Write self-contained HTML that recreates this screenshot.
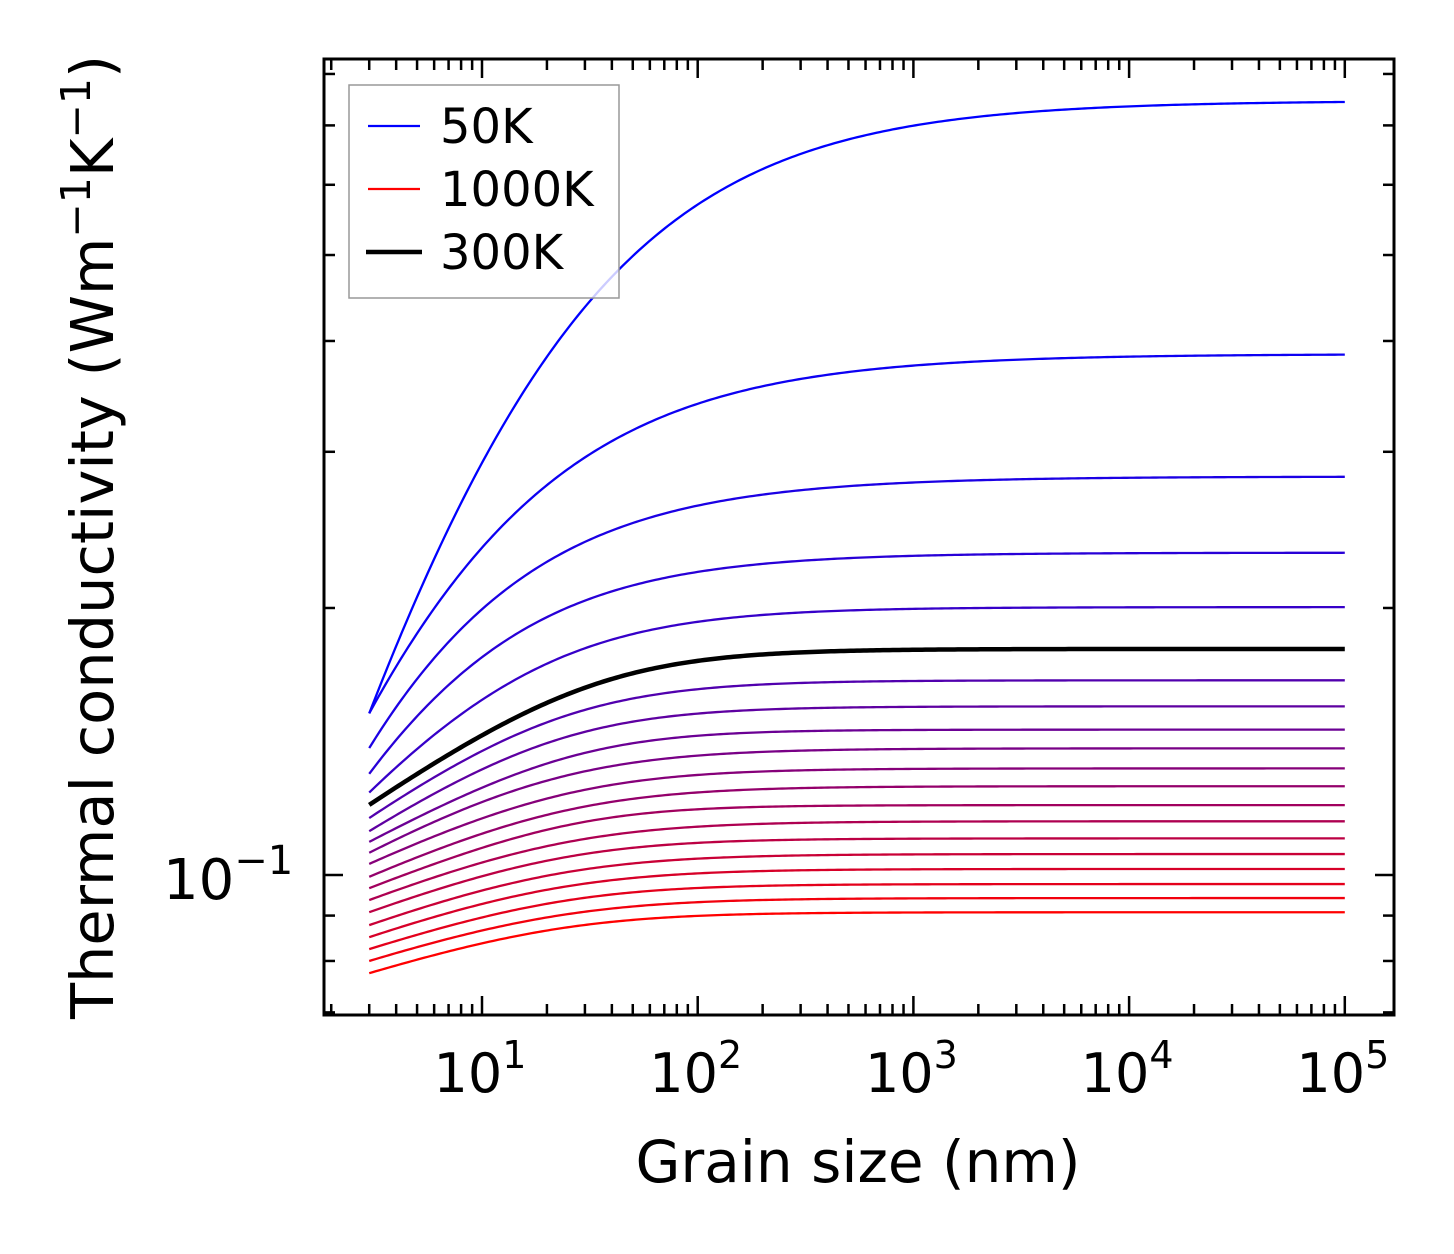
<!DOCTYPE html>
<html><head><meta charset="utf-8"><style>
html,body{margin:0;padding:0;background:#fff;}
svg{display:block;font-family:"DejaVu Sans","Liberation Sans",sans-serif;}
</style></head><body>
<svg id="chart" width="1454" height="1254" viewBox="0 0 1454 1254" xmlns="http://www.w3.org/2000/svg">
<rect width="1454" height="1254" fill="#fff"/>
<g id="series"></g>
<g id="axes"></g>
<g>
<rect x="349" y="85" width="270" height="213" fill="#fff" fill-opacity="0.8" stroke="#999" stroke-width="1.5"/>
<line x1="368" y1="126" x2="420" y2="126" stroke="#0000ff" stroke-width="2.2"/>
<text x="440" y="143" font-size="48">50K</text>
<line x1="368" y1="189" x2="420" y2="189" stroke="#ff0000" stroke-width="2.2"/>
<text x="440" y="206" font-size="48">1000K</text>
<line x1="366" y1="252" x2="422" y2="252" stroke="#000" stroke-width="4.5"/>
<text x="440" y="269" font-size="48">300K</text>
</g>
<text x="858" y="1182" font-size="58" text-anchor="middle">Grain size (nm)</text>
<text transform="translate(113,537) rotate(-90)" font-size="59" text-anchor="middle">Thermal conductivity (Wm<tspan dy="-23" font-size="41">−1</tspan><tspan dy="23">K</tspan><tspan dy="-23" font-size="41">−1</tspan><tspan dy="23">)</tspan></text>
</svg>
<script>
const grainSizes = [3, 5, 10, 20, 50, 100, 300, 1000, 10000, 100000];
const temperatures = [50,100,150,200,250,300,350,400,450,500,550,600,650,700,750,800,850,900,950,1000];
const k50 = [0.152,0.206,0.296,0.378,0.497,0.569,0.653,0.706,0.738,0.742];
const k100 = [0.152,0.189,0.232,0.276,0.316,0.340,0.363,0.380,0.384,0.385];
const k150 = [0.139,0.167,0.198,0.226,0.250,0.261,0.272,0.277,0.280,0.281];
const k200 = [0.130,0.151,0.177,0.194,0.212,0.220,0.226,0.229,0.230,0.231];
const k250 = [0.124,0.138,0.156,0.176,0.187,0.192,0.196,0.199,0.200,0.201];
const k300 = [0.120,0.130,0.143,0.157,0.169,0.174,0.178,0.179,0.1798,0.180];
const k350 = [0.116,0.125,0.138,0.149,0.158,0.162,0.164,0.165,0.1658,0.166];
const k400 = [0.112,0.121,0.131,0.141,0.149,0.152,0.154,0.1545,0.1549,0.155];
const k450 = [0.109,0.116,0.125,0.134,0.141,0.143,0.145,0.1455,0.1459,0.146];
const k500 = [0.106,0.112,0.121,0.128,0.134,0.136,0.138,0.1385,0.1389,0.139];
const k550 = [0.103,0.108,0.116,0.122,0.128,0.129,0.131,0.1315,0.1319,0.132];
const k600 = [0.0995,0.105,0.111,0.117,0.122,0.124,0.125,0.1255,0.1259,0.126];
const k650 = [0.0967,0.101,0.107,0.113,0.117,0.118,0.1195,0.1198,0.1199,0.120];
const k700 = [0.0937,0.098,0.103,0.108,0.112,0.113,0.1145,0.1148,0.1149,0.115];
const k750 = [0.0908,0.0947,0.0996,0.104,0.107,0.109,0.1095,0.1098,0.1099,0.110];
const k800 = [0.0878,0.0915,0.0959,0.0999,0.1031,0.1043,0.1051,0.1055,0.1056,0.1056];
const k850 = [0.0851,0.0885,0.0927,0.0963,0.0993,0.1003,0.1011,0.1015,0.1016,0.1016];
const k900 = [0.0825,0.0856,0.0895,0.0929,0.0956,0.0966,0.0973,0.0976,0.0977,0.0977];
const k950 = [0.0800,0.0829,0.0865,0.0897,0.0922,0.0931,0.0938,0.0941,0.0942,0.0942];
const k1000 = [0.0775,0.0803,0.0837,0.0866,0.0890,0.0899,0.0905,0.0907,0.0908,0.0908];
const xTickExps = [1,2,3,4,5];
const yMajorTicks = [0.1];
const yMinorTicks = [0.07,0.08,0.09,0.2,0.3,0.4,0.5,0.6,0.7,0.8];

const series = [k50,k100,k150,k200,k250,k300,k350,k400,k450,k500,k550,k600,k650,k700,k750,k800,k850,k900,k950,k1000];
const NS = 'http://www.w3.org/2000/svg';
const L = 324, R = 1394, T = 59, B = 1015;
const xDec = 215.7, yDec = 887;
function xs(v){ return 482 + (Math.log10(v) - 1) * xDec; }
function ys(v){ return 875 - (Math.log10(v) + 1) * yDec; }

// Smooth least-squares fit through the read values: log k = A + s*log(1 + (c/L)^q)/q
function fitCurve(xv, kv){
  const ly = kv.map(v => Math.log10(v));
  const n = ly.length;
  const w = ly.map((_, i) => (i === 0 || i === n-1) ? 4 : 1);
  let best = null;
  for (let q = 0.3; q <= 2.0001; q += 0.05){
    for (let lc = -1; lc <= 4; lc += 0.01){
      const c = Math.pow(10, lc);
      const g = xv.map(x => Math.log10(1 + Math.pow(c/x, q))/q);
      let sw=0, sg=0, sy=0, sgg=0, sgy=0;
      for (let i=0;i<n;i++){ sw+=w[i]; sg+=w[i]*g[i]; sy+=w[i]*ly[i]; sgg+=w[i]*g[i]*g[i]; sgy+=w[i]*g[i]*ly[i]; }
      const den = sw*sgg - sg*sg;
      if (Math.abs(den) < 1e-12) continue;
      const slope = (sw*sgy - sg*sy)/den;
      const A = (sy - slope*sg)/sw;
      let err = 0;
      for (let i=0;i<n;i++){ const e = A + slope*g[i] - ly[i]; err += w[i]*e*e; }
      if (!best || err < best.err) best = {err, c, q, slope, A};
    }
  }
  return x => Math.pow(10, best.A + best.slope*Math.log10(1 + Math.pow(best.c/x, best.q))/best.q);
}

const sg = document.getElementById('series');
let blackPath = null;
series.forEach((vals, i) => {
  const t = i/(series.length-1);
  const f = fitCurve(grainSizes, vals);
  const x0 = Math.log10(grainSizes[0]), x1 = Math.log10(grainSizes[grainSizes.length-1]);
  let d = '';
  for (let s=0;s<=300;s++){
    const xv = Math.pow(10, x0 + (x1-x0)*s/300);
    d += (s ? 'L' : 'M') + xs(xv).toFixed(2) + ',' + ys(f(xv)).toFixed(2);
  }
  const path = document.createElementNS(NS,'path');
  path.setAttribute('d', d);
  path.setAttribute('fill','none');
  path.setAttribute('stroke-linejoin','round');
  const isRoom = temperatures[i] === 300;
  path.setAttribute('stroke', isRoom ? '#000' : 'rgb('+Math.round(255*t)+',0,'+Math.round(255*(1-t))+')');
  path.setAttribute('stroke-width', isRoom ? 4.5 : 2.3);
  
  
  if (isRoom) blackPath = path; else sg.appendChild(path);
});
if (blackPath) sg.appendChild(blackPath);

const ag = document.getElementById('axes');
function line(x1,y1,x2,y2,w,name){
  const l = document.createElementNS(NS,'line');
  l.setAttribute('x1',x1); l.setAttribute('y1',y1); l.setAttribute('x2',x2); l.setAttribute('y2',y2);
  l.setAttribute('stroke','#000'); l.setAttribute('stroke-width',w);
  
  
  ag.appendChild(l);
}
for (let e=0;e<=5;e++){
  for (let k=1;k<=9;k++){
    const v = k*Math.pow(10,e);
    const x = xs(v);
    if (x < L+2 || x > R-2) continue;
    const len = k===1 ? 19 : 11;
    line(x,B,x,B-len,2.5,k===1?'x-major-tick':'x-minor-tick');
    line(x,T,x,T+len,2.5,k===1?'x-major-tick-top':'x-minor-tick-top');
  }
}
yMajorTicks.forEach(v => { const y=ys(v); line(L,y,L+19,y,2.5,'y-major-tick'); line(R,y,R-19,y,2.5,'y-major-tick-right'); });
yMinorTicks.forEach(v => { const y=ys(v); if (y<T+2||y>B-2) return; line(L,y,L+11,y,2.5,'y-minor-tick'); line(R,y,R-11,y,2.5,'y-minor-tick-right'); });
const frame = document.createElementNS(NS,'rect');
frame.setAttribute('x',L); frame.setAttribute('y',T); frame.setAttribute('width',R-L); frame.setAttribute('height',B-T);
frame.setAttribute('fill','none'); frame.setAttribute('stroke','#000'); frame.setAttribute('stroke-width',3);


ag.appendChild(frame);
xTickExps.forEach(e => {
  const t = document.createElementNS(NS,'text');
  t.setAttribute('x', xs(Math.pow(10,e)) - 2); t.setAttribute('y', 1092);
  t.setAttribute('font-size', 54); t.setAttribute('text-anchor','middle');
  t.innerHTML = '10<tspan dy="-24" font-size="38">'+e+'</tspan>';
  
  
  ag.appendChild(t);
});
yMajorTicks.forEach(v => {
  const t = document.createElementNS(NS,'text');
  t.setAttribute('x', 163); t.setAttribute('y', ys(v)+24);
  t.setAttribute('font-size', 56);
  t.innerHTML = '10<tspan dy="-25" font-size="40">−1</tspan>';
  
  
  ag.appendChild(t);
});
</script>
</body></html>
